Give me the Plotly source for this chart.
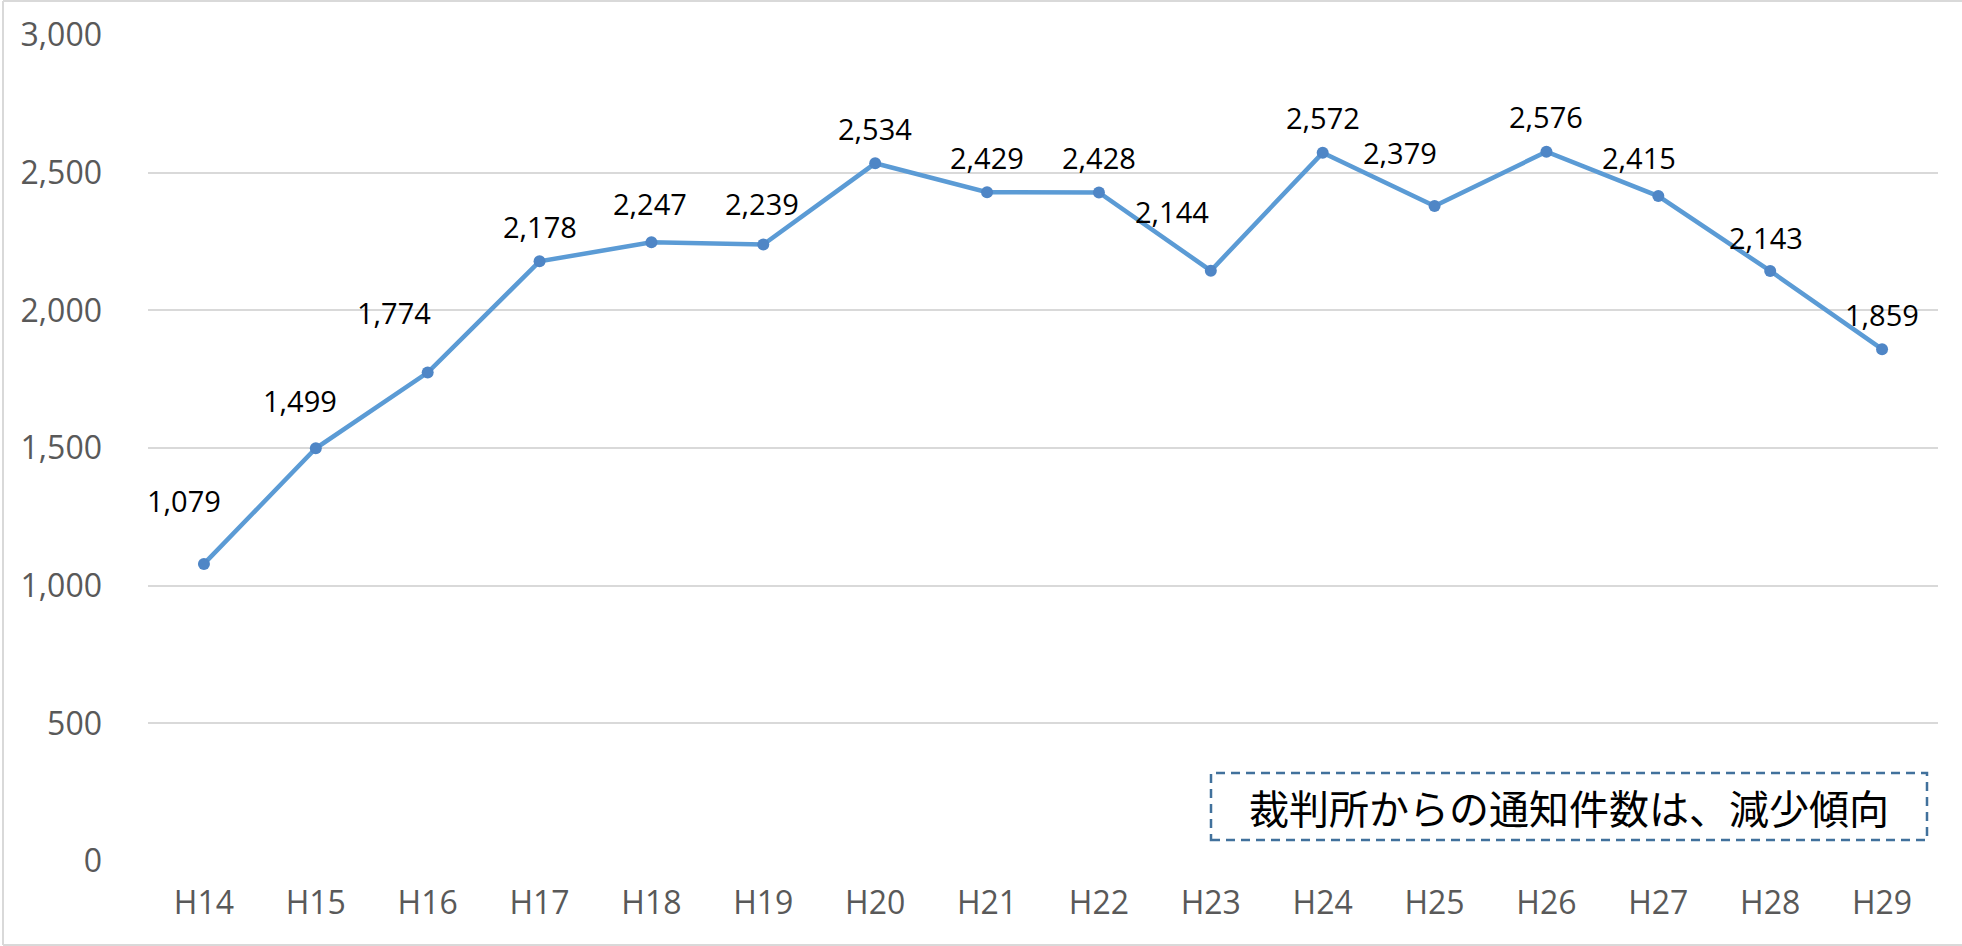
import plotly.graph_objects as go

categories = ["H14", "H15", "H16", "H17", "H18", "H19", "H20", "H21",
              "H22", "H23", "H24", "H25", "H26", "H27", "H28", "H29"]
values = [1079, 1499, 1774, 2178, 2247, 2239, 2534, 2429,
          2428, 2144, 2572, 2379, 2576, 2415, 2143, 1859]
y_ticks = [0, 500, 1000, 1500, 2000, 2500, 3000]
note_text = "裁判所からの通知件数は、減少傾向"

# label offsets (pixels) relative to each point
label_dx = [-20, -16, -34, 0, -1, -1, 0, 0, 0, -39, 0, -35, 0, -19, -4, 0]
label_dy = [63, 48, 60, 35, 39, 41, 35, 35, 35, 59, 35, 53, 35, 39, 33, 35]

W, H = 1962, 946
L, R, T, B = 148, 24, 35, 85
pw, ph = W - L - R, H - T - B

fig = go.Figure()
fig.add_trace(go.Scatter(
    x=categories, y=values, mode="lines+markers",
    line=dict(color="#5B9BD5", width=4.5),
    marker=dict(color="#4F86C6", size=12),
    hoverinfo="skip", showlegend=False,
))

for c, v, dx, dy in zip(categories, values, label_dx, label_dy):
    fig.add_annotation(x=c, y=v, text=f"{v:,}", showarrow=False,
                       xshift=dx, yshift=dy,
                       font=dict(family="Open Sans", size=29, color="#000000"))

# chart border (Excel style)
fig.add_shape(type="line", xref="paper", yref="paper",
              x0=(3 - L) / pw, x1=(3 - L) / pw,
              y0=-(945 - (H - B)) / ph, y1=1 + (T - 1) / ph,
              line=dict(color="#D9D9D9", width=2))
fig.add_shape(type="line", xref="paper", yref="paper",
              x0=(3 - L) / pw, x1=(W + 5 - L) / pw,
              y0=1 + (T - 1) / ph, y1=1 + (T - 1) / ph,
              line=dict(color="#D9D9D9", width=2))
fig.add_shape(type="line", xref="paper", yref="paper",
              x0=(3 - L) / pw, x1=(W + 5 - L) / pw,
              y0=-(945 - (H - B)) / ph, y1=-(945 - (H - B)) / ph,
              line=dict(color="#D9D9D9", width=2))

# note box
bx0, bx1, by0, by1 = 1211, 1927, 773, 840
fig.add_shape(type="rect", xref="paper", yref="paper",
              x0=(bx0 - L) / pw, x1=(bx1 - L) / pw,
              y0=((H - B) - by1) / ph, y1=((H - B) - by0) / ph,
              line=dict(color="#41719C", width=2.5, dash="9px,6px"),
              fillcolor="rgba(255,255,255,0)")
fig.add_annotation(xref="paper", yref="paper",
                   x=((bx0 + bx1) / 2 - L) / pw,
                   y=((H - B) - (by0 + by1) / 2) / ph,
                   xanchor="center", yanchor="middle",
                   width=bx1 - bx0 - 10, height=by1 - by0 - 6,
                   align="center", valign="middle",
                   text=note_text, showarrow=False,
                   font=dict(family="Noto Sans CJK JP", size=40, color="#000000"))

fig.update_layout(
    width=W, height=H,
    margin=dict(l=L, r=R, t=T, b=B),
    paper_bgcolor="white", plot_bgcolor="white",
    font=dict(family="Open Sans", color="#595959"),
)
fig.update_xaxes(type="category", range=[-0.5, 15.5], showgrid=False,
                 showline=False, zeroline=False, ticks="",
                 tickfont=dict(size=32, color="#595959"),
                 ticklabelstandoff=20)
fig.update_yaxes(range=[0, 3000], tickvals=y_ticks,
                 ticktext=[f"{t:,}" for t in y_ticks],
                 showgrid=True, gridcolor="#D9D9D9", gridwidth=2,
                 zeroline=False, showline=False, ticks="",
                 tickfont=dict(size=32, color="#595959"),
                 ticklabelstandoff=45)

fig.write_html("out.html")
